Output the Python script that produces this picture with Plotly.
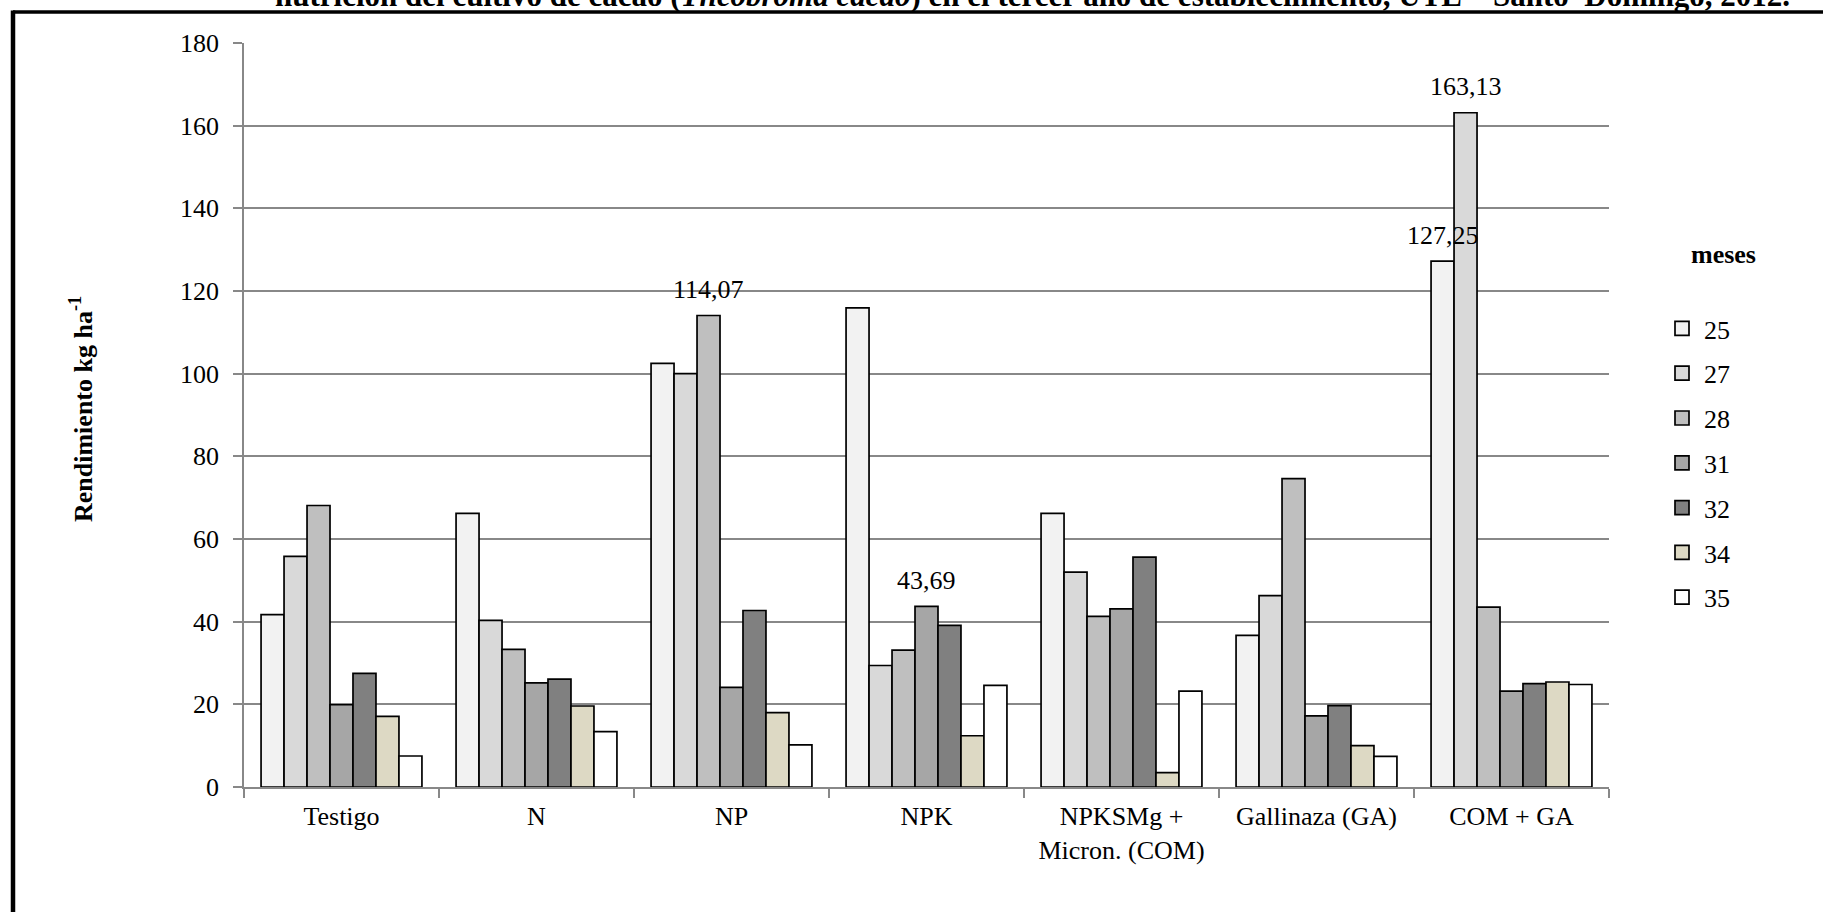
import plotly.graph_objects as go

# ---------------- data ----------------
categories = ["Testigo", "N", "NP", "NPK", "NPKSMg +<br>Micron. (COM)", "Gallinaza (GA)", "COM + GA"]
months = ["25", "27", "28", "31", "32", "34", "35"]

m25 = [41.7, 66.2, 102.5, 115.9, 66.2, 36.7, 127.25]
m27 = [55.8, 40.3, 100.0, 29.4, 52.0, 46.3, 163.13]
m28 = [68.1, 33.3, 114.07, 33.1, 41.3, 74.6, 43.5]
m31 = [19.9, 25.2, 24.1, 43.69, 43.1, 17.2, 23.2]
m32 = [27.5, 26.1, 42.7, 39.1, 55.6, 19.7, 25.0]
m34 = [17.1, 19.6, 18.0, 12.4, 3.5, 10.0, 25.4]
m35 = [7.5, 13.4, 10.2, 24.6, 23.2, 7.4, 24.8]
series = [m25, m27, m28, m31, m32, m34, m35]

colors = ["#f2f2f2", "#d9d9d9", "#bfbfbf", "#a6a6a6", "#808080", "#ddd9c4", "#ffffff"]

# labelled bars: (category index, series index)
label_cat_idx = [2, 3, 6, 6]
label_ser_idx = [2, 3, 0, 1]

yticks = [0, 20, 40, 60, 80, 100, 120, 140, 160, 180]

FONT = "Liberation Serif, Times New Roman, serif"
FS = 26
BARGAP = 0.175

fig = go.Figure()
for i, (m, vals) in enumerate(zip(months, series)):
    fig.add_trace(go.Bar(
        x=categories, y=vals, name=m,
        marker=dict(color=colors[i], line=dict(color="black", width=1.7)),
        legendgroup=m, showlegend=False,
    ))
# legend entries (square swatches)
for i, m in enumerate(months):
    fig.add_trace(go.Scatter(
        x=[None], y=[None], name=m, mode="markers", legendgroup=m,
        marker=dict(symbol="square", size=14, color=colors[i], line=dict(color="black", width=1.7)),
        hoverinfo="skip",
    ))

# helper invisible axis for label placement
fig.add_trace(go.Scatter(x=[0], y=[0], xaxis="x2", mode="markers",
                         marker=dict(opacity=0), showlegend=False, hoverinfo="skip"))

n = len(months)
w = (1 - BARGAP) / n
annotations = []
for ci, si in zip(label_cat_idx, label_ser_idx):
    v = series[si][ci]
    annotations.append(dict(
        xref="x2", yref="y", x=ci + (si - (n - 1) / 2) * w, y=v,
        text=f"{v:.2f}".replace(".", ","), showarrow=False,
        yanchor="middle", yshift=26,
        font=dict(family=FONT, size=FS, color="black"),
    ))

W, H = 1823, 912
L, R, T, B = 244, 214, 43, 125
pw, ph = W - L - R, H - T - B


def px(x):
    return (x - L) / pw


def py(y):
    return (H - B - y) / ph


annotations.append(dict(
    xref="paper", yref="paper", x=px(81), y=py(409), textangle=-90,
    text="<b>Rendimiento kg ha<sup>-1</sup></b>", showarrow=False,
    xanchor="center", yanchor="middle",
    font=dict(family=FONT, size=FS, color="black"),
))
annotations.append(dict(
    xref="paper", yref="paper", x=px(1723), y=py(255),
    text="<b>meses</b>", showarrow=False, xanchor="center", yanchor="middle",
    font=dict(family=FONT, size=FS, color="black"),
))
annotations.append(dict(
    xref="paper", yref="paper", x=px(1032), y=py(-5),
    text="<b>nutrición del cultivo de cacao (<i>Theobroma cacao</i>) en el tercer año de establecimiento, UTE – Santo  Domingo, 2012.</b>",
    showarrow=False, xanchor="center", yanchor="middle",
    font=dict(family=FONT, size=31, color="black"),
))

shapes = [
    dict(type="line", xref="paper", yref="paper", x0=px(13), x1=px(1900), y0=py(12), y1=py(12),
         line=dict(color="black", width=3.5)),
    dict(type="line", xref="paper", yref="paper", x0=px(13), x1=px(13), y0=py(10.5), y1=py(1000),
         line=dict(color="black", width=4.5)),
]

GRID = "#888888"
fig.update_layout(
    width=W, height=H,
    margin=dict(l=L, r=R, t=T, b=B, pad=0),
    paper_bgcolor="white", plot_bgcolor="white",
    barmode="group", bargap=BARGAP, bargroupgap=0,
    font=dict(family=FONT, size=FS, color="black"),
    xaxis=dict(
        type="category", showline=True, linecolor=GRID, linewidth=1.5,
        ticks="outside", tickson="boundaries", ticklen=9, tickcolor=GRID, tickwidth=1.5,
        tickfont=dict(family=FONT, size=FS, color="black"), ticklabelstandoff=5,
        showgrid=False, range=[-0.5, 6.5],
    ),
    xaxis2=dict(overlaying="x", range=[-0.5, 6.5], visible=False, showgrid=False),
    yaxis=dict(
        range=[0, 180], tickvals=yticks, showgrid=True, gridcolor=GRID, gridwidth=1.5,
        showline=True, linecolor=GRID, linewidth=1.5,
        ticks="outside", ticklen=9, tickcolor=GRID, tickwidth=1.5,
        tickfont=dict(family=FONT, size=FS, color="black"), ticklabelstandoff=9,
        zeroline=False,
    ),
    legend=dict(
        x=px(1660), y=py(305), xanchor="left", yanchor="top",
        font=dict(family=FONT, size=FS, color="black"),
        bgcolor="rgba(0,0,0,0)", tracegroupgap=8, itemwidth=34,
    ),
    annotations=annotations,
    shapes=shapes,
    showlegend=True,
)

fig.write_html("out.html", config={"displayModeBar": False},
               post_script="document.body.style.margin='0';document.body.style.overflow='hidden';")
